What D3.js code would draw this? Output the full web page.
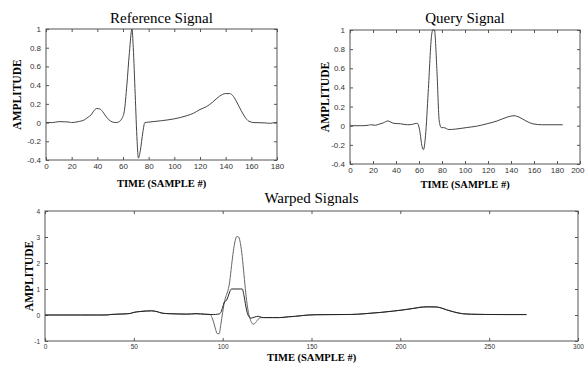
<!DOCTYPE html>
<html>
<head>
<meta charset="utf-8">
<script src="https://cdn.jsdelivr.net/npm/d3@7"></script>
<style>
  body { margin: 0; background: #fff; }
  svg { display: block; }
</style>
</head>
<body>
<svg id="chart" width="585" height="367"></svg>
<script>
// reference signal (sample #, amplitude)
const refT = [0, 5, 10, 15, 18, 20, 25, 30, 33, 35, 37, 39.5, 42, 44, 46, 49, 52, 55, 57, 59, 61, 63, 65, 67, 68, 69.5, 71, 72, 73.5, 75.5, 77, 80, 90, 100, 105, 110, 115, 120, 125, 130, 135, 140, 143, 146, 149, 152, 155, 158, 162, 170, 175, 178, 180];
const refV = [0, 0, 0.01, 0.008, 0.005, 0, 0.01, 0.03, 0.06, 0.08, 0.12, 0.15, 0.145, 0.12, 0.08, 0.03, 0.005, 0, 0.01, 0.04, 0.12, 0.4, 0.75, 1.0, 0.8, 0.3, -0.2, -0.38, -0.3, -0.1, 0, 0.005, 0.02, 0.04, 0.055, 0.075, 0.1, 0.14, 0.17, 0.22, 0.28, 0.31, 0.31, 0.28, 0.21, 0.13, 0.06, 0.015, 0, -0.003, -0.008, 0, 0];

// query signal
const qryT = [0, 10, 16, 18, 22, 25, 29, 33, 35, 38, 44, 50, 54.6, 57.6, 59, 60.6, 62.7, 63.9, 65.7, 68, 71, 72, 73.4, 75.5, 77.6, 79.4, 81.5, 86, 92, 101, 110, 119, 128, 136.7, 142.7, 147, 153, 159, 166.6, 185];
const qryV = [0, 0, 0.005, 0.01, 0.005, 0.015, 0.03, 0.05, 0.04, 0.025, 0.02, 0.01, 0.015, 0.025, 0.02, -0.05, -0.22, -0.25, -0.1, 0.35, 0.95, 1.0, 1.0, 0.6, 0.05, -0.02, -0.02, -0.04, -0.035, -0.02, -0.005, 0.02, 0.05, 0.09, 0.105, 0.09, 0.05, 0.02, 0.01, 0.01];

// warped signals on a common time axis
const warpT = [0, 10, 20, 30, 35, 37, 40, 45, 48, 50, 53, 57, 60, 63, 66, 70, 75, 80, 85, 90,
  93, 94, 95, 96, 97, 98, 99, 100, 101, 102, 103, 104, 105, 106, 107, 108, 109, 110, 111, 112,
  113, 114, 115, 116, 117, 118, 119, 120, 121, 122, 123, 124,
  128, 132, 137, 141, 145, 152, 160, 172, 180, 189, 196, 202, 207, 211, 215, 220, 223, 226, 230, 235, 240, 248, 260, 271];
const warpA = [0, 0, 0, 0, 0.005, 0.02, 0.03, 0.04, 0.06, 0.1, 0.13, 0.16, 0.16, 0.13, 0.07, 0.05, 0.04, 0.03, 0.05, 0.03,
  0.02, -0.1, -0.3, -0.55, -0.72, -0.72, -0.35, 0.1, 0.5, 0.75, 0.95, 1.3, 1.9, 2.45, 2.85, 3.02, 3.0, 2.75, 2.25, 1.55,
  0.85, 0.3, -0.05, -0.25, -0.35, -0.33, -0.25, -0.16, -0.11, -0.1, -0.1, -0.1,
  -0.1, -0.1, -0.07, -0.05, -0.02, 0.01, 0.015, 0.02, 0.05, 0.1, 0.15, 0.2, 0.25, 0.3, 0.32, 0.31, 0.27, 0.2, 0.12, 0.05, 0.03, 0.02, 0.02, 0.02];
const warpB = [0, 0, 0, 0, 0, 0.02, 0.03, 0.045, 0.06, 0.1, 0.13, 0.15, 0.16, 0.13, 0.07, 0.05, 0.04, 0.035, 0.05, 0.03,
  0.02, 0.02, 0.02, 0.02, 0.03, 0.04, 0.1, 0.3, 0.5, 0.55, 0.7, 0.9, 1.0, 1.0, 1.0, 1.0, 1.0, 1.0, 1.0, 0.75,
  0.35, 0.05, -0.08, -0.12, -0.1, -0.08, -0.06, -0.05, -0.07, -0.09, -0.1, -0.1,
  -0.1, -0.1, -0.07, -0.05, -0.02, 0.01, 0.015, 0.02, 0.05, 0.1, 0.15, 0.2, 0.25, 0.29, 0.31, 0.31, 0.27, 0.2, 0.12, 0.05, 0.03, 0.02, 0.015, 0.015];

const refXTicks = d3.range(0, 181, 20);
const qryXTicks = d3.range(0, 201, 20);
const warpXTicks = d3.range(0, 301, 50);
const ampTicks = [-0.4, -0.2, 0, 0.2, 0.4, 0.6, 0.8, 1];
const warpYTicks = [-1, 0, 1, 2, 3, 4];

const svg = d3.select('#chart');
const fmt = d => String(+d.toFixed(1));
const serif = '"Liberation Serif", "Times New Roman", serif';
const W = +svg.attr('width');

function panel({ left, right, top, bottom, xDomain, yDomain, xTicks, yTicks, title, titleY,
  ylabX, xlabY, tickFont, series }) {
  const x = d3.scaleLinear().domain(xDomain).range([left, right]);
  const y = d3.scaleLinear().domain(yDomain).range([bottom, top]);
  const g = svg.append('g');

  const styleAxis = sel => {
    sel.select('.domain').remove();
    sel.selectAll('line').attr('stroke', '#555');
    sel.selectAll('text').attr('fill', '#333')
      .attr('font-family', '"Liberation Sans", Arial, sans-serif')
      .attr('font-size', tickFont);
  };

  const xAxis = g.append('g').attr('transform', `translate(0,${bottom})`)
    .call(d3.axisBottom(x).tickValues(xTicks).tickFormat(fmt).tickSize(-3).tickPadding(3))
    .call(styleAxis);
  // keep the last tick label inside the page edge
  xAxis.selectAll('.tick text')
    .filter(function (d) { return x(d) + this.getComputedTextLength() / 2 > W - 1; })
    .attr('text-anchor', 'end')
    .attr('x', function (d) { return W - 1 - x(d); });

  g.append('g').attr('transform', `translate(0,${top})`)
    .call(d3.axisTop(x).tickValues(xTicks).tickFormat('').tickSize(-3))
    .call(styleAxis);
  g.append('g').attr('transform', `translate(${left},0)`)
    .call(d3.axisLeft(y).tickValues(yTicks).tickFormat(fmt).tickSize(-3).tickPadding(5))
    .call(styleAxis);
  g.append('g').attr('transform', `translate(${right},0)`)
    .call(d3.axisRight(y).tickValues(yTicks).tickFormat('').tickSize(-3))
    .call(styleAxis);

  g.append('rect')
    .attr('x', left).attr('y', top)
    .attr('width', right - left).attr('height', bottom - top)
    .attr('fill', 'none').attr('stroke', '#555').attr('stroke-width', 1);

  const line = d3.line()
    .x(d => x(d[0]))
    .y(d => y(d[1]))
    .curve(d3.curveMonotoneX);

  series.forEach(s => {
    g.append('path')
      .datum(s.t.map((t, i) => [t, s.v[i]]))
      .attr('fill', 'none')
      .attr('stroke', s.color)
      .attr('stroke-width', 1)
      .attr('d', line);
  });

  const cx = (left + right) / 2;
  g.append('text')
    .attr('x', cx).attr('y', titleY)
    .attr('text-anchor', 'middle')
    .attr('font-family', serif)
    .attr('font-size', 15)
    .text(title);

  g.append('text')
    .attr('x', cx).attr('y', xlabY)
    .attr('text-anchor', 'middle')
    .attr('font-family', serif)
    .attr('font-weight', 'bold')
    .attr('font-size', 10.5)
    .text('TIME (SAMPLE #)');

  g.append('text')
    .attr('transform', `translate(${ylabX},${(top + bottom) / 2}) rotate(-90)`)
    .attr('text-anchor', 'middle')
    .attr('font-family', serif)
    .attr('font-weight', 'bold')
    .attr('font-size', 11.5)
    .text('AMPLITUDE');
}

panel({
  left: 46, right: 277, top: 29, bottom: 160,
  xDomain: [0, 180], yDomain: [-0.4, 1], xTicks: refXTicks, yTicks: ampTicks,
  title: 'Reference Signal', titleY: 23, ylabX: 21, xlabY: 187, tickFont: 8,
  series: [{ t: refT, v: refV, color: '#444' }]
});

panel({
  left: 350, right: 580, top: 30, bottom: 164,
  xDomain: [0, 200], yDomain: [-0.4, 1], xTicks: qryXTicks, yTicks: ampTicks,
  title: 'Query Signal', titleY: 23, ylabX: 329, xlabY: 188, tickFont: 8,
  series: [{ t: qryT, v: qryV, color: '#444' }]
});

panel({
  left: 45, right: 578, top: 211, bottom: 341,
  xDomain: [0, 300], yDomain: [-1, 4], xTicks: warpXTicks, yTicks: warpYTicks,
  title: 'Warped Signals', titleY: 203, ylabX: 33, xlabY: 361, tickFont: 6.5,
  series: [
    { t: warpT, v: warpA, color: '#666' },
    { t: warpT, v: warpB, color: '#222' }
  ]
});
</script>
</body>
</html>
